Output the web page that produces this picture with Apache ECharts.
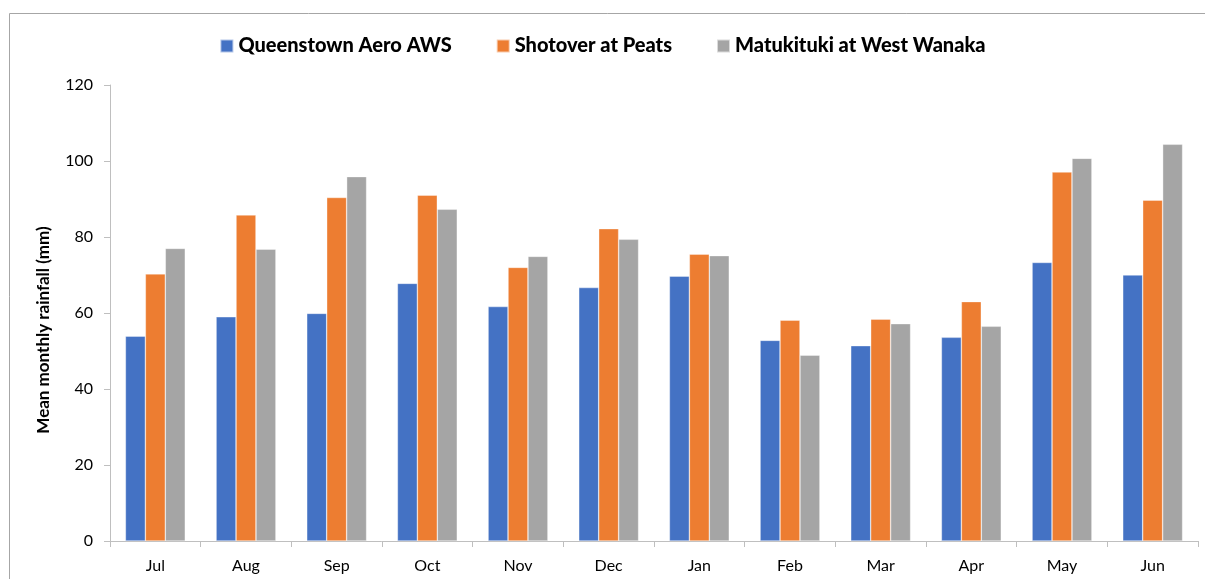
<!DOCTYPE html>
<html>
<head>
<meta charset="utf-8">
<script src="https://cdn.jsdelivr.net/npm/echarts@6/dist/echarts.min.js"></script>
<style>
html,body{margin:0;padding:0;background:#fff;}
#chart{width:1205px;height:579px;}
</style>
</head>
<body>
<div id="chart"></div>
<script>
var months = ['Jul','Aug','Sep','Oct','Nov','Dec','Jan','Feb','Mar','Apr','May','Jun'];
var queenstown = [53.9, 59.0, 59.9, 67.8, 61.7, 66.7, 69.7, 52.8, 51.4, 53.6, 73.3, 70.0];
var shotover   = [70.3, 85.8, 90.4, 91.0, 72.0, 82.2, 75.5, 58.1, 58.4, 63.0, 97.1, 89.7];
var matukituki = [77.0, 76.8, 95.9, 87.3, 74.9, 79.4, 75.1, 48.9, 57.2, 56.5, 100.7, 104.4];
var seriesNames = ['Queenstown Aero AWS','Shotover at Peats','Matukituki at West Wanaka'];

var chart = echarts.init(document.getElementById('chart'));
var font = 'Lato, "Open Sans", sans-serif';

function barSeries(name, data, color) {
  return {
    name: name,
    type: 'bar',
    data: data,
    barGap: '0%',
    barCategoryGap: '34%',
    itemStyle: { color: color, borderColor: 'rgba(255,255,255,0.6)', borderWidth: 0.6 },
    emphasis: { disabled: true }
  };
}

var option = {
  animation: false,
  textStyle: { fontFamily: font },
  graphic: [{
    type: 'rect',
    shape: { x: 9.5, y: 13.5, width: 1200, height: 620 },
    style: { fill: 'none', stroke: '#a6a6a6', lineWidth: 1 },
    silent: true
  }],
  legend: {
    data: seriesNames,
    top: 31,
    left: 'center',
    itemWidth: 13,
    itemHeight: 13,
    itemGap: 44,
    icon: 'rect',
    textStyle: { fontFamily: font, fontSize: 20, fontWeight: 900, color: '#000' }
  },
  grid: { left: 110, right: 7, top: 85, bottom: 38 },
  xAxis: {
    type: 'category',
    data: months,
    axisLine: { lineStyle: { color: '#bfbfbf', width: 1 } },
    axisTick: { show: true, length: 6, lineStyle: { color: '#bfbfbf' } },
    axisLabel: { color: '#000', fontSize: 16, fontFamily: font, margin: 17 }
  },
  yAxis: {
    type: 'value',
    min: 0,
    max: 120,
    interval: 20,
    name: 'Mean monthly rainfall (mm)',
    nameLocation: 'middle',
    nameGap: 58,
    nameTextStyle: { fontFamily: font, fontSize: 17, fontWeight: 'bold', color: '#000', padding: [0, 34, 0, 0] },
    axisLine: { show: true, lineStyle: { color: '#bfbfbf', width: 1 } },
    axisTick: { show: true, length: 6, lineStyle: { color: '#bfbfbf' } },
    splitLine: { show: false },
    axisLabel: { color: '#000', fontSize: 16, fontFamily: font, margin: 17 }
  },
  series: [
    barSeries(seriesNames[0], queenstown, '#4472C4'),
    barSeries(seriesNames[1], shotover, '#ED7D31'),
    barSeries(seriesNames[2], matukituki, '#A5A5A5')
  ]
};
chart.setOption(option);
</script>
</body>
</html>
